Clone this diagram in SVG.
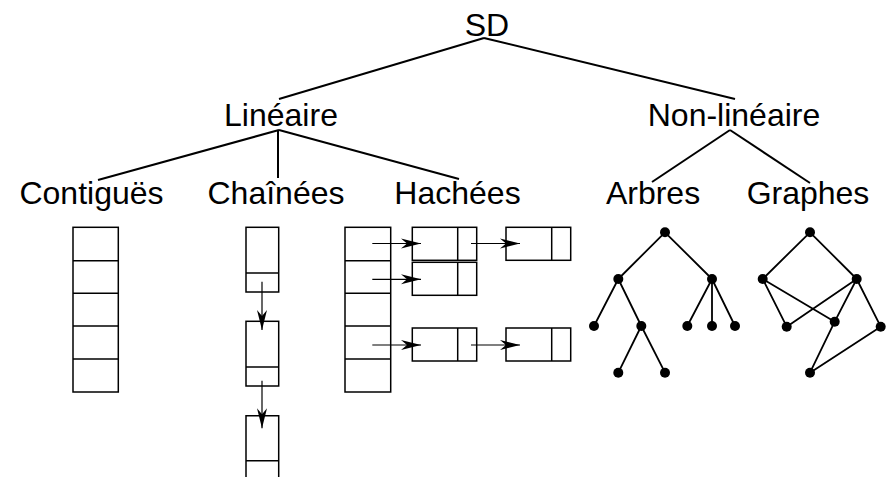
<svg xmlns="http://www.w3.org/2000/svg" width="890" height="477" viewBox="0 0 890 477">
<style>
text{font-family:"Liberation Sans",Arial,sans-serif;font-size:32px;fill:#000;text-anchor:middle}
.c{stroke:#000;stroke-width:2;fill:none}
.b{stroke:#000;stroke-width:1.5;fill:#fff}
.d{stroke:#000;stroke-width:1.5;fill:none}
.a{stroke:#000;stroke-width:1.2;fill:none;marker-end:url(#ah)}
.e{stroke:#000;stroke-width:1.8;fill:none}
.n{fill:#000}
</style>
<defs>
<marker id="ah" markerUnits="userSpaceOnUse" markerWidth="22" markerHeight="12" viewBox="-21 -6 22 12" refX="0" refY="0" orient="auto">
<path d="M0,0 L-20,-5 L-14,0 L-20,5 Z" fill="#000"/>
</marker>
</defs>
<g id="connectors">
<line class="c" x1="484" y1="38" x2="279" y2="99"/>
<line class="c" x1="484" y1="38" x2="735" y2="99"/>
<line class="c" x1="279" y1="130" x2="98" y2="180"/>
<line class="c" x1="278" y1="130" x2="278" y2="178"/>
<line class="c" x1="279" y1="130" x2="459" y2="179"/>
<line class="c" x1="730" y1="130" x2="652" y2="182"/>
<line class="c" x1="730" y1="130" x2="810" y2="183"/>
</g>
<g id="n-sd"><text x="487" y="36">SD</text></g>
<g id="n-lineaire"><text x="281" y="126">Linéaire</text></g>
<g id="n-nonlineaire"><text x="734" y="126">Non-linéaire</text></g>
<g id="n-contigues"><text x="91.5" y="204">Contiguës</text></g>
<g id="n-chainees"><text x="276" y="204">Chaînées</text></g>
<g id="n-hachees"><text x="457.5" y="204">Hachées</text></g>
<g id="n-arbres"><text x="653" y="204">Arbres</text></g>
<g id="n-graphes"><text x="808" y="204">Graphes</text></g>
<g id="contigues-array">
<rect class="b" x="73" y="227.3" width="45.3" height="164.7"/>
<line class="d" x1="73" y1="260.7" x2="118.3" y2="260.7"/>
<line class="d" x1="73" y1="293.3" x2="118.3" y2="293.3"/>
<line class="d" x1="73" y1="326" x2="118.3" y2="326"/>
<line class="d" x1="73" y1="359" x2="118.3" y2="359"/>
</g>
<g id="chainees-list">
<rect class="b" x="246" y="227.3" width="32.7" height="64.7"/>
<line class="d" x1="246" y1="273" x2="278.7" y2="273"/>
<rect class="b" x="246" y="321.3" width="32.7" height="64.7"/>
<line class="d" x1="246" y1="367" x2="278.7" y2="367"/>
<path class="d" d="M246,482 V415.7 H278.7 V482"/>
<line class="d" x1="246" y1="460.7" x2="278.7" y2="460.7"/>
<line class="a" x1="262" y1="281.7" x2="262" y2="330"/>
<line class="a" x1="262" y1="380.7" x2="262" y2="428.3"/>
</g>
<g id="hachees-table">
<rect class="b" x="345" y="227.3" width="45.7" height="164.7"/>
<line class="d" x1="345" y1="260.7" x2="390.7" y2="260.7"/>
<line class="d" x1="345" y1="293.3" x2="390.7" y2="293.3"/>
<line class="d" x1="345" y1="326" x2="390.7" y2="326"/>
<line class="d" x1="345" y1="359" x2="390.7" y2="359"/>
<rect class="b" x="412.3" y="227.3" width="64.4" height="33"/>
<line class="d" x1="457.7" y1="227.3" x2="457.7" y2="260.3"/>
<rect class="b" x="506" y="227.3" width="64.7" height="33"/>
<line class="d" x1="551.7" y1="227.3" x2="551.7" y2="260.3"/>
<rect class="b" x="412.3" y="262.3" width="64.4" height="33"/>
<line class="d" x1="457.7" y1="262.3" x2="457.7" y2="295.3"/>
<rect class="b" x="412.3" y="328" width="64.4" height="33"/>
<line class="d" x1="457.7" y1="328" x2="457.7" y2="361"/>
<rect class="b" x="506" y="328" width="64.7" height="33"/>
<line class="d" x1="551.7" y1="328" x2="551.7" y2="361"/>
<line class="a" x1="372.3" y1="243.5" x2="421" y2="243.5"/>
<line class="a" x1="471" y1="243.5" x2="520" y2="243.5"/>
<line class="a" x1="372.3" y1="279.3" x2="421" y2="279.3"/>
<line class="a" x1="372.3" y1="345" x2="421" y2="345"/>
<line class="a" x1="471" y1="345" x2="520" y2="345"/>
</g>
<g id="arbre">
<path class="e" d="M665,232.3 L618.3,279 M665,232.3 L712,279 M618.3,279 L594,326 M618.3,279 L641.3,326 M641.3,326 L618.3,372.7 M641.3,326 L665,372.7 M712,279 L687.3,326 M712,279 L712,326 M712,279 L735,326"/>
<circle class="n" cx="665" cy="232.3" r="5"/>
<circle class="n" cx="618.3" cy="279" r="5"/>
<circle class="n" cx="712" cy="279" r="5"/>
<circle class="n" cx="594" cy="326" r="5"/>
<circle class="n" cx="641.3" cy="326" r="5"/>
<circle class="n" cx="687.3" cy="326" r="5"/>
<circle class="n" cx="712" cy="326" r="5"/>
<circle class="n" cx="735" cy="326" r="5"/>
<circle class="n" cx="618.3" cy="372.7" r="5"/>
<circle class="n" cx="665" cy="372.7" r="5"/>
</g>
<g id="graphe">
<path class="e" d="M810,232.3 L762.7,279 M810,232.3 L856.7,279 M762.7,279 L786.7,326.7 M762.7,279 L834.7,321.7 M856.7,279 L786.7,326.7 M856.7,279 L834.7,321.7 M856.7,279 L880.7,326.7 M834.7,321.7 L810,372.7 M880.7,326.7 L810,372.7"/>
<circle class="n" cx="810" cy="232.3" r="5"/>
<circle class="n" cx="762.7" cy="279" r="5"/>
<circle class="n" cx="856.7" cy="279" r="5"/>
<circle class="n" cx="786.7" cy="326.7" r="5"/>
<circle class="n" cx="834.7" cy="321.7" r="5"/>
<circle class="n" cx="880.7" cy="326.7" r="5"/>
<circle class="n" cx="810" cy="372.7" r="5"/>
</g>
</svg>
